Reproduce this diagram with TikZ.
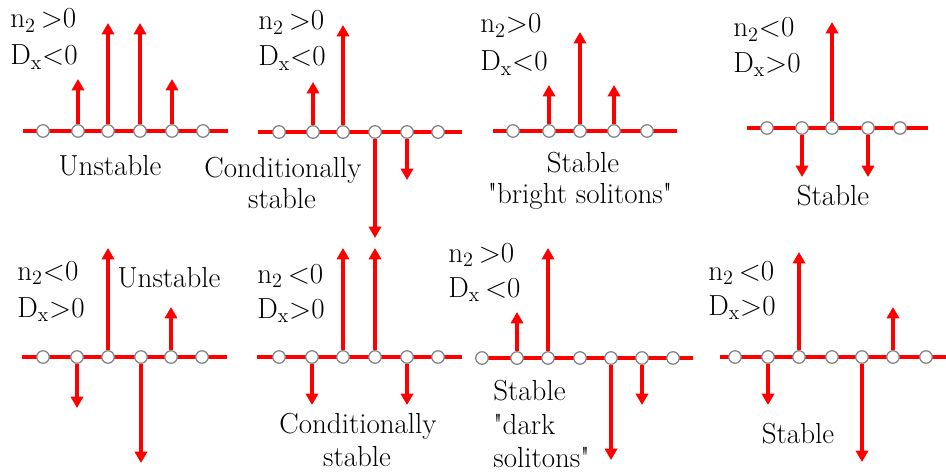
\documentclass[tikz,border=0pt]{standalone}
\usetikzlibrary{arrows.meta}

\begin{document}
\begin{tikzpicture}[
    x=0.02cm, y=-0.02cm,
    font=\fontsize{16.5}{19}\selectfont,
    axis/.style={draw=red, line width=2.2pt},
    site/.style={
        circle,
        minimum size=0.25cm,
        inner sep=0pt,
        draw=gray,
        fill=white,
        line width=0.7pt
    },
    arrow/.style={red, line width=1.9pt, -{Triangle[length=6.5pt,width=7pt]}},
    cond/.style={anchor=base west, inner sep=0pt},
    verdict/.style={anchor=base, inner sep=0pt}
]
    \useasboundingbox (0,0) rectangle (946,473);

    % top row, panel 1
    \coordinate (p1l) at (23,131); \coordinate (p1r) at (228,131);
    \draw [axis] (p1l) -- (p1r);
    \node (p1a) [site] at (43,131) {}; \node (p1b) [site] at (78,131) {};
    \node (p1c) [site] at (108,131) {}; \node (p1d) [site] at (140,131) {};
    \node (p1e) [site] at (172,131) {}; \node (p1f) [site] at (203,131) {};
    \coordinate (p1bt) at (78,79); \coordinate (p1ct) at (108,23);
    \coordinate (p1dt) at (140,23); \coordinate (p1et) at (172,79);
    \draw [arrow] (p1b) -- (p1bt);
    \draw [arrow] (p1c) -- (p1ct);
    \draw [arrow] (p1d) -- (p1dt);
    \draw [arrow] (p1e) -- (p1et);
    \node (n1) [cond] at (10,28) {n\textsubscript{2}\,>0};
    \node (d1) [cond] at (10,65) {D\textsubscript{x}<0};
    \node (v1) [verdict] at (110,175) {Unstable};

    % top row, panel 2
    \coordinate (p2l) at (258,132); \coordinate (p2r) at (462,132);
    \draw [axis] (p2l) -- (p2r);
    \node (p2a) [site] at (279,132) {}; \node (p2b) [site] at (313,132) {};
    \node (p2c) [site] at (343,132) {}; \node (p2d) [site] at (375,132) {};
    \node (p2e) [site] at (407,132) {}; \node (p2f) [site] at (438,132) {};
    \coordinate (p2bt) at (313,82); \coordinate (p2ct) at (343,25);
    \coordinate (p2dt) at (375,238); \coordinate (p2et) at (407,180);
    \draw [arrow] (p2b) -- (p2bt);
    \draw [arrow] (p2c) -- (p2ct);
    \draw [arrow] (p2d) -- (p2dt);
    \draw [arrow] (p2e) -- (p2et);
    \node (n2) [cond] at (258,30) {n\textsubscript{2}\,>0};
    \node (d2) [cond] at (258,66) {D\textsubscript{x}<0};
    \node (v2a) [verdict] at (283,177) {Conditionally};
    \node (v2b) [verdict] at (282,208) {stable};

    % top row, panel 3
    \coordinate (p3l) at (493,131); \coordinate (p3r) at (677,131);
    \draw [axis] (p3l) -- (p3r);
    \node (p3a) [site] at (513,131) {}; \node (p3b) [site] at (549,131) {};
    \node (p3c) [site] at (580,131) {}; \node (p3d) [site] at (614,131) {};
    \node (p3e) [site] at (647,131) {};
    \coordinate (p3bt) at (549,85); \coordinate (p3ct) at (580,32);
    \coordinate (p3dt) at (614,85);
    \draw [arrow] (p3b) -- (p3bt);
    \draw [arrow] (p3c) -- (p3ct);
    \draw [arrow] (p3d) -- (p3dt);
    \node (n3) [cond] at (480,33) {n\textsubscript{2}>0};
    \node (d3) [cond] at (480,71) {D\textsubscript{x}<0};
    \node (v3a) [verdict] at (583,172) {Stable};
    \node (v3b) [verdict] at (580,203) {\textquotedbl bright solitons\textquotedbl};

    % top row, panel 4
    \coordinate (p4l) at (747,128); \coordinate (p4r) at (928,128);
    \draw [axis] (p4l) -- (p4r);
    \node (p4a) [site] at (767,128) {}; \node (p4b) [site] at (802,128) {};
    \node (p4c) [site] at (832,128) {}; \node (p4d) [site] at (868,128) {};
    \node (p4e) [site] at (900,128) {};
    \coordinate (p4bt) at (802,177); \coordinate (p4ct) at (832,22);
    \coordinate (p4dt) at (868,177);
    \draw [arrow] (p4b) -- (p4bt);
    \draw [arrow] (p4c) -- (p4ct);
    \draw [arrow] (p4d) -- (p4dt);
    \node (n4) [cond] at (733,37) {n\textsubscript{2}<0};
    \node (d4) [cond] at (733,72) {D\textsubscript{x}>0};
    \node (v4) [verdict] at (833,205) {Stable};

    % bottom row, panel 5
    \coordinate (p5l) at (22,357); \coordinate (p5r) at (227,357);
    \draw [axis] (p5l) -- (p5r);
    \node (p5a) [site] at (43,357) {}; \node (p5b) [site] at (77,357) {};
    \node (p5c) [site] at (108,357) {}; \node (p5d) [site] at (141,357) {};
    \node (p5e) [site] at (171,357) {}; \node (p5f) [site] at (202,357) {};
    \coordinate (p5bt) at (77,408); \coordinate (p5ct) at (108,248);
    \coordinate (p5dt) at (141,463); \coordinate (p5et) at (171,307);
    \draw [arrow] (p5b) -- (p5bt);
    \draw [arrow] (p5c) -- (p5ct);
    \draw [arrow] (p5d) -- (p5dt);
    \draw [arrow] (p5e) -- (p5et);
    \node (n5) [cond] at (17,280) {n\textsubscript{2}<0};
    \node (d5) [cond] at (17,317) {D\textsubscript{x}>0};
    \node (v5) [verdict] at (169,287) {Unstable};

    % bottom row, panel 6
    \coordinate (p6l) at (257,357); \coordinate (p6r) at (462,357);
    \draw [axis] (p6l) -- (p6r);
    \node (p6a) [site] at (279,357) {}; \node (p6b) [site] at (312,357) {};
    \node (p6c) [site] at (343,357) {}; \node (p6d) [site] at (375,357) {};
    \node (p6e) [site] at (407,357) {}; \node (p6f) [site] at (438,357) {};
    \coordinate (p6bt) at (312,405); \coordinate (p6ct) at (343,248);
    \coordinate (p6dt) at (375,248); \coordinate (p6et) at (407,405);
    \draw [arrow] (p6b) -- (p6bt);
    \draw [arrow] (p6c) -- (p6ct);
    \draw [arrow] (p6d) -- (p6dt);
    \draw [arrow] (p6e) -- (p6et);
    \node (n6) [cond] at (257,283) {n\textsubscript{2}\,<0};
    \node (d6) [cond] at (257,318) {D\textsubscript{x}>0};
    \node (v6a) [verdict] at (358,433) {Conditionally};
    \node (v6b) [verdict] at (357,466) {stable};

    % bottom row, panel 7
    \coordinate (p7l) at (478,358); \coordinate (p7r) at (693,358);
    \draw [axis] (p7l) -- (p7r);
    \node (p7a) [site] at (482,358) {}; \node (p7b) [site] at (517,358) {};
    \node (p7c) [site] at (548,358) {}; \node (p7d) [site] at (580,358) {};
    \node (p7e) [site] at (611,358) {}; \node (p7f) [site] at (642,358) {};
    \node (p7g) [site] at (673,358) {};
    \coordinate (p7bt) at (517,312); \coordinate (p7ct) at (548,248);
    \coordinate (p7et) at (611,460); \coordinate (p7ft) at (642,405);
    \draw [arrow] (p7b) -- (p7bt);
    \draw [arrow] (p7c) -- (p7ct);
    \draw [arrow] (p7e) -- (p7et);
    \draw [arrow] (p7f) -- (p7ft);
    \node (n7) [cond] at (448,262) {n\textsubscript{2}\,>0};
    \node (d7) [cond] at (448,297) {D\textsubscript{x}\,<0};
    \node (v7a) [cond] at (493,400) {Stable};
    \node (v7b) [cond] at (493,434) {\textquotedbl dark};
    \node (v7c) [cond] at (493,467) {solitons\textquotedbl};

    % bottom row, panel 8
    \coordinate (p8l) at (720,357); \coordinate (p8r) at (946,357);
    \draw [axis] (p8l) -- (p8r);
    \node (p8a) [site] at (735,357) {}; \node (p8b) [site] at (768,357) {};
    \node (p8c) [site] at (799,357) {}; \node (p8d) [site] at (832,357) {};
    \node (p8e) [site] at (862,357) {}; \node (p8f) [site] at (893,357) {};
    \node (p8g) [site] at (926,357) {};
    \coordinate (p8bt) at (768,405); \coordinate (p8ct) at (799,252);
    \coordinate (p8et) at (862,462); \coordinate (p8ft) at (893,307);
    \draw [arrow] (p8b) -- (p8bt);
    \draw [arrow] (p8c) -- (p8ct);
    \draw [arrow] (p8e) -- (p8et);
    \draw [arrow] (p8f) -- (p8ft);
    \node (n8) [cond] at (708,280) {n\textsubscript{2}\,<0};
    \node (d8) [cond] at (708,315) {D\textsubscript{x}>0};
    \node (v8) [verdict] at (798,443) {Stable};

\end{tikzpicture}
\end{document}
